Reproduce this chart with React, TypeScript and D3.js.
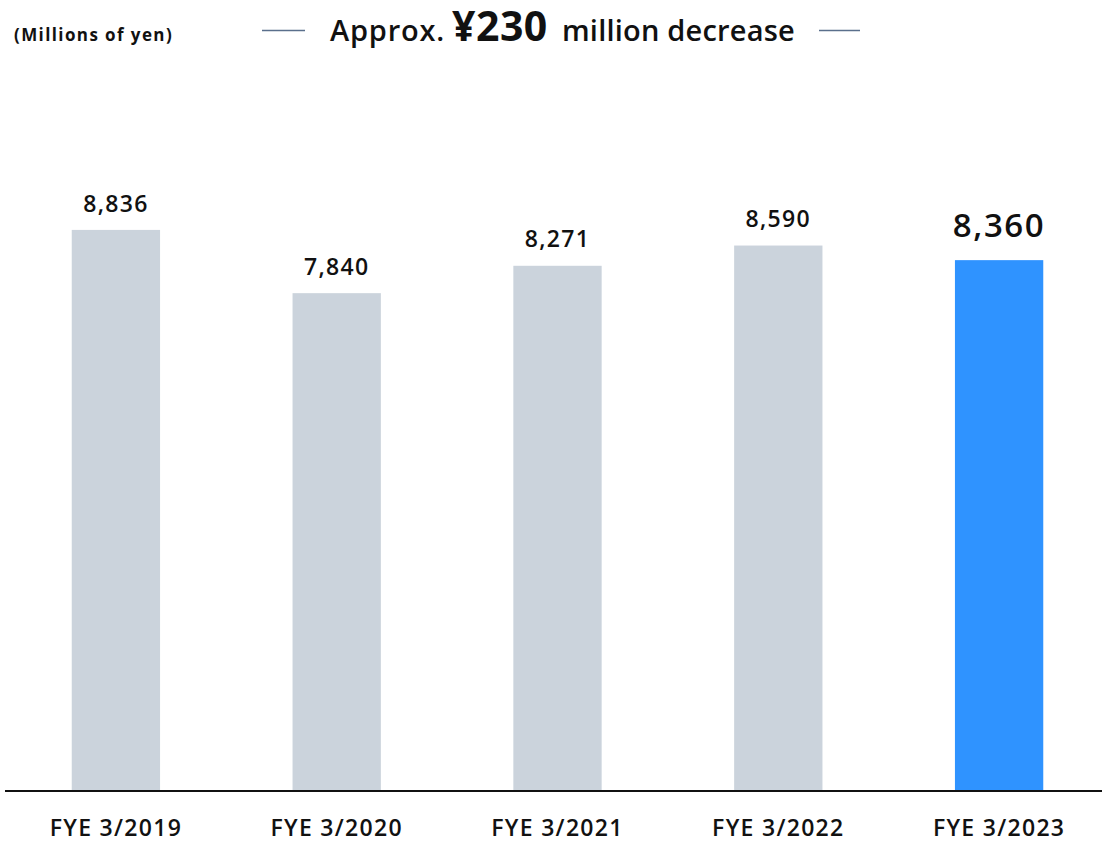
import React from "react";
import * as d3 from "d3";

const years = ["FYE 3/2019", "FYE 3/2020", "FYE 3/2021", "FYE 3/2022", "FYE 3/2023"];
const values = [8836, 7840, 8271, 8590, 8360];
const unitLabel = "(Millions of yen)";

const W = 1102;
const H = 842;
const baseY = 791;
const FONT = "'Open Sans', 'Noto Sans', sans-serif";

export default function App() {
  const x = d3
    .scaleBand<string>()
    .domain(years)
    .range([5.5, 1109.5])
    .paddingInner(0.6)
    .paddingOuter(0.3);
  const y = d3.scaleLinear().domain([0, 10000]).range([baseY, baseY - 635]);
  const fmt = d3.format(",");
  const last = years.length - 1;

  return (
    <svg width={W} height={H} style={{ position: "absolute", left: 0, top: 0 }} fontFamily={FONT}>
      <rect width={W} height={H} fill="#fff" />
      <text x={14} y={41} fontSize={17} fontWeight={700} letterSpacing={1.4} fill="#111">
        {unitLabel}
      </text>
      <line x1={262} x2={305} y1={30.5} y2={30.5} stroke="#5a6f8c" strokeWidth={1.5} />
      <line x1={819} x2={860} y1={30.5} y2={30.5} stroke="#5a6f8c" strokeWidth={1.5} />
      <text y={40.5} fill="#111" fontWeight={600} fontSize={29}>
        <tspan x={330} letterSpacing={0.8}>Approx.</tspan>
        <tspan x={452} fontWeight={700} fontSize={41} letterSpacing={0.5}>
          ¥230
        </tspan>
        <tspan x={562} letterSpacing={0.2}>million decrease</tspan>
      </text>

      {years.map((yr, i) => {
        const isLast = i === last;
        const bx = x(yr)!;
        const cx = bx + x.bandwidth() / 2;
        return (
          <g key={yr}>
            <rect
              x={bx}
              y={y(values[i])}
              width={x.bandwidth()}
              height={baseY - y(values[i])}
              fill={isLast ? "#2f93ff" : "#cbd3dc"}
            />
            <text
              x={cx}
              y={y(values[i]) - (isLast ? 23.3 : 18.3)}
              textAnchor="middle"
              fontSize={isLast ? 33 : 23}
              fontWeight={600}
              letterSpacing={isLast ? 1.6 : 1.3}
              fill="#111"
            >
              {fmt(values[i])}
            </text>
            <text
              x={cx}
              y={836}
              textAnchor="middle"
              fontSize={23}
              fontWeight={600}
              letterSpacing={1.3}
              fill="#111"
            >
              {yr}
            </text>
          </g>
        );
      })}
      <line x1={5} x2={W} y1={baseY} y2={baseY} stroke="#111" strokeWidth={2} />
    </svg>
  );
}
